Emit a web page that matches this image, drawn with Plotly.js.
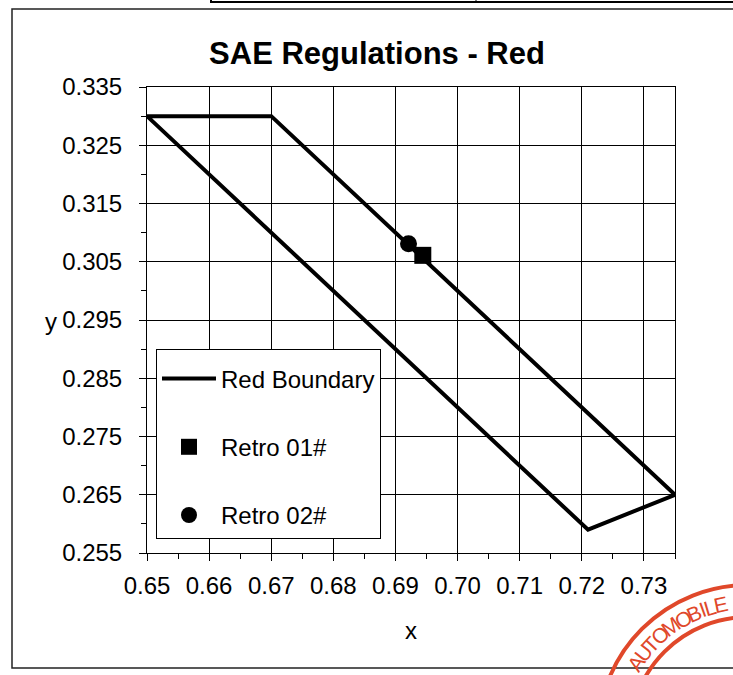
<!DOCTYPE html>
<html>
<head>
<meta charset="utf-8">
<script src="https://cdn.plot.ly/plotly-3.0.1.min.js"></script>
<style>html,body{margin:0;padding:0;background:#fff;}#chart{width:733px;height:675px;}</style>
</head>
<body>
<div id="chart"></div>
<script>
// Data
const boundaryX = [0.65, 0.67, 0.735, 0.721, 0.65];
const boundaryY = [0.33, 0.33, 0.265, 0.259, 0.33];
const retro01X = [0.6944];
const retro01Y = [0.3061];
const retro02X = [0.6921];
const retro02Y = [0.3081];
const xTickVals = [0.65, 0.66, 0.67, 0.68, 0.69, 0.70, 0.71, 0.72, 0.73];
const xTickText = ["0.65", "0.66", "0.67", "0.68", "0.69", "0.70", "0.71", "0.72", "0.73"];
const yTickVals = [0.255, 0.265, 0.275, 0.285, 0.295, 0.305, 0.315, 0.325, 0.335];
const yTickText = ["0.255", "0.265", "0.275", "0.285", "0.295", "0.305", "0.315", "0.325", "0.335"];
const stampText = "AUTOMOBILE";

const FONT = "Liberation Sans, Arial, sans-serif";
const W = 733, H = 675, L = 147, R = 58, T = 87, B = 122;
const pw = W - L - R, ph = H - T - B;
const px = v => (v - L) / pw;
const py = v => (H - B - v) / ph;

const traces = [
  {x: boundaryX, y: boundaryY, mode: "lines", name: "Red Boundary", legendgroup: "a",
   line: {color: "#000", width: 4}, cliponaxis: false},
  {x: retro01X, y: retro01Y, mode: "markers", name: "Retro 01#", legendgroup: "b",
   marker: {symbol: "square", size: 17, color: "#000"}, cliponaxis: false},
  {x: retro02X, y: retro02Y, mode: "markers", name: "Retro 02#", legendgroup: "c",
   marker: {symbol: "circle", size: 17, color: "#000"}, cliponaxis: false}
];

const axisCommon = {
  showline: true, mirror: true, linecolor: "#000", linewidth: 1,
  showgrid: true, gridcolor: "#000", gridwidth: 1, zeroline: false,
  ticks: "outside", ticklen: 7, tickcolor: "#000", tickwidth: 1,
  tickfont: {family: FONT, size: 24, color: "#000"}
};

// Stamp: circle geometry in pixels, letters spaced by their approximate widths
const SC = {x: 748, y: 735}, RO = 150, RI = 118, RM = 133;
const letterW = {A: .667, U: .722, T: .611, O: .778, M: .833, B: .667, I: .278, L: .556, E: .667};
const widths = stampText.split("").map(c => letterW[c] + 0.12);
const totalW = widths.reduce((s, w) => s + w, 0);
const stampAnn = [];
const a0 = 210, a1 = 261;
let acc = 0;
for (let i = 0; i < stampText.length; i++) {
  const mid = acc + widths[i] / 2;
  acc += widths[i];
  const th = a0 + (a1 - a0) * mid / totalW;
  const rad = th * Math.PI / 180;
  const cx = SC.x + RM * Math.cos(rad), cy = SC.y + RM * Math.sin(rad);
  stampAnn.push({text: stampText[i], xref: "paper", yref: "paper", x: px(cx), y: py(cy),
    xanchor: "center", yanchor: "middle", showarrow: false, textangle: th - 270,
    font: {family: "Liberation Sans Narrow, Liberation Sans, Arial, sans-serif", size: 21, color: "#e0482a"}});
}

const layout = {
  width: W, height: H,
  margin: {l: L, r: R, t: T, b: B},
  paper_bgcolor: "#fff", plot_bgcolor: "#fff",
  font: {family: FONT, color: "#000"},
  title: {text: "<b>SAE Regulations - Red</b>", font: {family: FONT, size: 31, color: "#000"},
          x: 377 / W, xref: "container", xanchor: "center", y: 1 - 53 / H, yref: "container", yanchor: "middle"},
  xaxis: Object.assign({}, axisCommon, {
    range: [0.65, 0.735], tickmode: "array", tickvals: xTickVals, ticktext: xTickText,
    ticklabelstandoff: 4,
    minor: {tickmode: "linear", tick0: 0.655, dtick: 0.01, ticks: "outside", ticklen: 5, tickcolor: "#000", showgrid: false},
    title: {text: "x", font: {family: FONT, size: 24, color: "#000"}, standoff: 24}
  }),
  yaxis: Object.assign({}, axisCommon, {
    range: [0.255, 0.335], tickmode: "array", tickvals: yTickVals, ticktext: yTickText,
    ticklabelstandoff: 12,
    minor: {tickmode: "linear", tick0: 0.26, dtick: 0.01, ticks: "outside", ticklen: 5, tickcolor: "#000", showgrid: false}
  }),
  showlegend: true,
  legend: {
    x: px(156), y: py(349), xanchor: "left", yanchor: "top",
    bgcolor: "#fff", bordercolor: "#000", borderwidth: 1,
    font: {family: FONT, size: 24, color: "#000"},
    title: {text: " ", font: {size: 5}},
    traceorder: "grouped", tracegroupgap: 34, itemwidth: 54
  },
  annotations: [
    {text: "y", xref: "paper", yref: "paper", x: px(59), y: py(321), xanchor: "right", yanchor: "middle",
     showarrow: false, font: {family: FONT, size: 24, color: "#000"}}
  ].concat(stampAnn),
  shapes: [
    {type: "rect", xref: "paper", yref: "paper", x0: px(12), x1: px(745), y0: py(668), y1: py(9),
     line: {color: "#222", width: 1.5}, layer: "below"},
    {type: "rect", xref: "paper", yref: "paper", x0: px(211), x1: px(745), y0: py(2), y1: py(-10),
     line: {color: "#000", width: 2}},
    {type: "line", xref: "paper", yref: "paper", x0: px(476), x1: px(476), y0: py(2), y1: py(-10),
     line: {color: "#000", width: 1}},
    {type: "circle", xref: "paper", yref: "paper", x0: px(SC.x - RO), x1: px(SC.x + RO), y0: py(SC.y + RO), y1: py(SC.y - RO),
     line: {color: "#e0482a", width: 4}},
    {type: "circle", xref: "paper", yref: "paper", x0: px(SC.x - RI), x1: px(SC.x + RI), y0: py(SC.y + RI), y1: py(SC.y - RI),
     line: {color: "#e0482a", width: 4}}
  ]
};

Plotly.newPlot("chart", traces, layout, {displayModeBar: false, staticPlot: true});
</script>
</body>
</html>
